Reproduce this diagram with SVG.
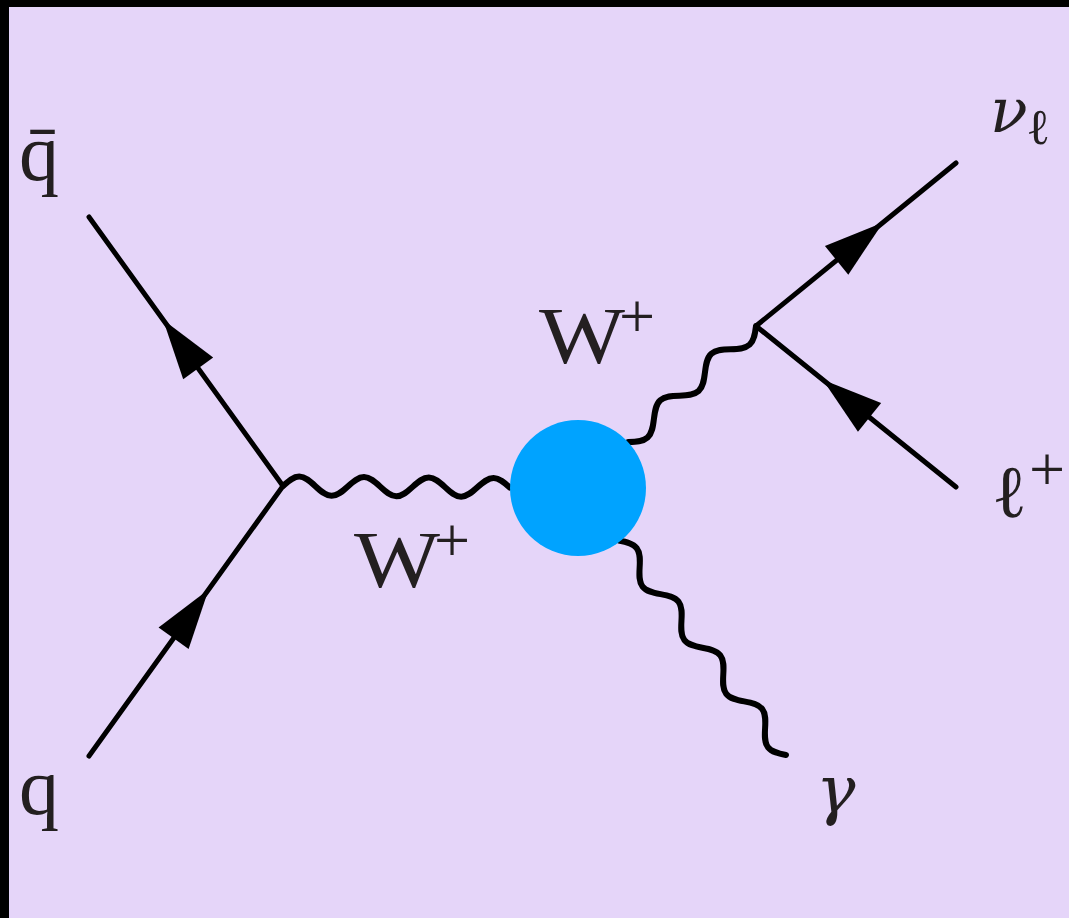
<svg xmlns="http://www.w3.org/2000/svg" xmlns:xlink="http://www.w3.org/1999/xlink" width="1069" height="918" viewBox="0 0 1069 918">
<style>
.fermion{stroke:#000;stroke-width:5;fill:none;stroke-linecap:round}
.photon{stroke:#000;stroke-width:6;fill:none;stroke-linecap:round;stroke-linejoin:round}
text{fill:#231f20}
.r{font-family:serif}
.g{font-family:'DejaVu Serif';font-style:italic}
.l{font-family:'DejaVu Serif'}
</style>
<defs>
<path id="arr" d="M0,0 L-60,-18.5 L-60,18.5 Z" fill="#000"/>
</defs>
<rect x="0" y="0" width="1069" height="918" fill="#000"/>
<rect x="9" y="7" width="1060" height="911" fill="#e5d5f9"/>
<g id="connectors">
<line class="fermion" x1="283" y1="486" x2="89" y2="217"/>
<line class="fermion" x1="89" y1="756" x2="283" y2="486"/>
<line class="fermion" x1="756" y1="326" x2="956" y2="163"/>
<line class="fermion" x1="956" y1="487" x2="756" y2="326"/>
<use xlink:href="#arr" transform="translate(163.1,319.7) rotate(-125.8)"/>
<use xlink:href="#arr" transform="translate(208.6,589.5) rotate(-54.3)"/>
<use xlink:href="#arr" transform="translate(883.1,222.4) rotate(-39.2)"/>
<use xlink:href="#arr" transform="translate(822.8,379.8) rotate(-141.2)"/>
<path class="photon" transform="translate(283,486) rotate(0.39)" d="M0,0 c5.283,-4.877 10.337,-9.5 16.2,-9.5 c5.863,0 10.917,4.633 16.2,9.5 c5.283,4.877 10.337,9.5 16.2,9.5 c5.863,0 10.917,-4.633 16.2,-9.5 c5.283,-4.877 10.337,-9.5 16.2,-9.5 c5.863,0 10.917,4.633 16.2,9.5 c5.283,4.877 10.337,9.5 16.2,9.5 c5.863,0 10.917,-4.633 16.2,-9.5 c5.283,-4.877 10.337,-9.5 16.2,-9.5 c5.863,0 10.917,4.633 16.2,9.5 c5.283,4.877 10.337,9.5 16.2,9.5 c5.863,0 10.917,-4.633 16.2,-9.5 c5.283,-4.877 10.337,-9.5 16.2,-9.5 c5.863,0 10.917,4.633 16.2,9.5"/>
<path class="photon" transform="translate(756,326) rotate(137.7)" d="M0,0 c5.625,-4.877 11.007,-9.5 17.25,-9.5 c6.243,0 11.625,4.633 17.25,9.5 c5.625,4.877 11.007,9.5 17.25,9.5 c6.243,0 11.625,-4.633 17.25,-9.5 c5.625,-4.877 11.007,-9.5 17.25,-9.5 c6.243,0 11.625,4.633 17.25,9.5 c5.625,4.877 11.007,9.5 17.25,9.5 c6.243,0 11.625,-4.633 17.25,-9.5 c5.625,-4.877 11.007,-9.5 17.25,-9.5 c6.243,0 11.625,4.633 17.25,9.5"/>
<path class="photon" transform="translate(786,755) rotate(-127.95)" d="M0,0 c5.544,-4.877 10.848,-9.5 17,-9.5 c6.152,0 11.456,4.633 17,9.5 c5.544,4.877 10.848,9.5 17,9.5 c6.152,0 11.456,-4.633 17,-9.5 c5.544,-4.877 10.848,-9.5 17,-9.5 c6.152,0 11.456,4.633 17,9.5 c5.544,4.877 10.848,9.5 17,9.5 c6.152,0 11.456,-4.633 17,-9.5 c5.544,-4.877 10.848,-9.5 17,-9.5 c6.152,0 11.456,4.633 17,9.5 c5.544,4.877 10.848,9.5 17,9.5 c6.152,0 11.456,-4.633 17,-9.5 c5.544,-4.877 10.848,-9.5 17,-9.5 c6.152,0 11.456,4.633 17,9.5 c5.544,4.877 10.848,9.5 17,9.5 c6.152,0 11.456,-4.633 17,-9.5"/>
</g>
<g id="blob"><circle cx="578" cy="488" r="68" fill="#00a3ff"/></g>
<g id="qbar"><text class="r" style="font-family:serif" x="19" y="180" font-size="80">q̄</text></g>
<g id="q"><text class="r" style="font-family:serif" x="19" y="814" font-size="80">q</text></g>
<g id="W1"><text class="r" style="font-family:serif" x="354" y="587" font-size="80" textLength="86" lengthAdjust="spacingAndGlyphs">W</text><text class="r" style="font-family:serif" x="434" y="562" font-size="64">+</text></g>
<g id="W2"><text class="r" style="font-family:serif" x="539" y="363" font-size="80" textLength="86" lengthAdjust="spacingAndGlyphs">W</text><text class="r" style="font-family:serif" x="619" y="338" font-size="64">+</text></g>
<g id="nu"><text class="g" x="990" y="132" font-size="62">ν</text><text class="l" x="1026" y="144" font-size="50">ℓ</text></g>
<g id="lplus"><text class="l" x="992" y="517" font-size="74">ℓ</text><text class="r" style="font-family:serif" x="1029" y="491" font-size="64">+</text></g>
<g id="gamma"><text class="g" x="816" y="812" font-size="66">γ</text></g>
</svg>
